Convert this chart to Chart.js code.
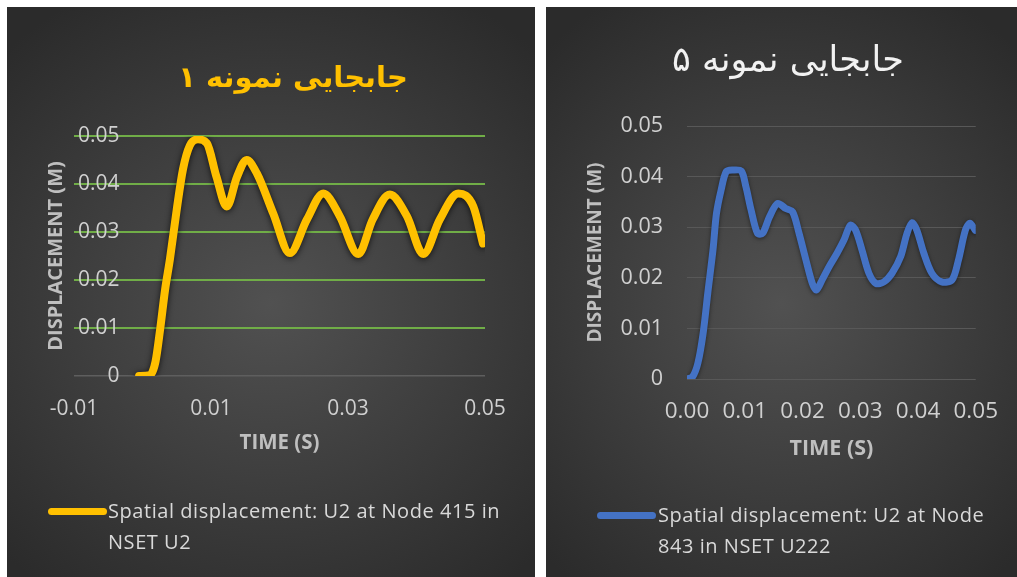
<!DOCTYPE html>
<html>
<head>
<meta charset="utf-8">
<script src="https://cdn.jsdelivr.net/npm/chart.js@4.4.0/dist/chart.umd.min.js"></script>
<style>
  html, body { margin: 0; padding: 0; background: #ffffff; width: 1017px; height: 577px; overflow: hidden; }
  .panel { position: absolute; top: 7px; height: 570px; overflow: hidden;
    background: radial-gradient(ellipse 72% 62% at 50% 52%, #515151 0%, #404040 45%, #2b2b2b 100%); }
  #panelA { left: 7px; width: 528px; }
  #panelB { left: 546px; width: 471px; }
  canvas { position: absolute; left: 0; top: 0; }
  .heading { position: absolute; white-space: nowrap; font-family: 'DejaVu Sans', sans-serif;
    transform: translate(-50%, -50%); }
  .legendText { position: absolute; font-family: 'Open Sans', Lato, sans-serif; font-size: 20px;
    letter-spacing: 0.55px; color: #d9d9d9; line-height: 31px; white-space: nowrap; }
  .swatch { position: absolute; height: 7px; border-radius: 4px; }
</style>
</head>
<body>
<div class="panel" id="panelA">
  <canvas id="chartA" width="528" height="570"></canvas>
  <div class="heading" id="headA" style="left:286px; top:70px; font-size:29px; font-weight:bold; color:#ffc000;"></div>
  <div class="swatch" style="left:41px; top:501px; width:59px; background:#ffc000;"></div>
  <div class="legendText" id="legA" style="left:101px; top:488px;"></div>
</div>
<div class="panel" id="panelB">
  <canvas id="chartB" width="471" height="570"></canvas>
  <div class="heading" id="headB" style="left:242px; top:52px; font-size:35px; color:#f2f2f2;"></div>
  <div class="swatch" style="left:51px; top:505px; width:59px; background:#4472c4;"></div>
  <div class="legendText" id="legB" style="left:112px; top:492px;"></div>
</div>
<script>
// Sample 1: U2 displacement at node 415 (NSET U2)
const timeA = [-0.0005, 0.0011, 0.0019, 0.0026, 0.0033, 0.0040, 0.0050, 0.0059, 0.0069, 0.0081,
  0.0094, 0.0108, 0.0123, 0.0138, 0.0152, 0.0167, 0.0191, 0.0215, 0.0240, 0.0264,
  0.0288, 0.0315, 0.0336, 0.0361, 0.0386, 0.0410, 0.0434, 0.0461, 0.0483, 0.0497];
const dispA = [0, 0.0002, 0.0030, 0.0100, 0.0180, 0.0243, 0.0347, 0.0430, 0.0480, 0.0493,
  0.0485, 0.0415, 0.0353, 0.0415, 0.0450, 0.0422, 0.0338, 0.0256, 0.0326, 0.0380,
  0.0333, 0.0254, 0.0326, 0.0378, 0.0333, 0.0254, 0.0326, 0.0380, 0.0353, 0.0276];

// Sample 5: U2 displacement at node 843 (NSET U222)
const timeB = [0, 0.0010, 0.0019, 0.0028, 0.0036, 0.0045, 0.0051, 0.0059, 0.0068, 0.0079,
  0.0094, 0.0102, 0.0111, 0.0122, 0.0131, 0.0143, 0.0157, 0.0171, 0.0183, 0.0194,
  0.0206, 0.0217, 0.0224, 0.0234, 0.0246, 0.0260, 0.0272, 0.0283, 0.0292, 0.0303,
  0.0315, 0.0327, 0.0341, 0.0355, 0.0370, 0.0381, 0.0390, 0.0398, 0.0410, 0.0424,
  0.0441, 0.0459, 0.0470, 0.0482, 0.0490, 0.0499];
const dispB = [0, 0.0005, 0.0032, 0.0091, 0.0170, 0.0255, 0.0327, 0.0373, 0.0410, 0.0413,
  0.0411, 0.0380, 0.0334, 0.0288, 0.0288, 0.0321, 0.0347, 0.0337, 0.0330, 0.0288,
  0.0235, 0.0189, 0.0176, 0.0196, 0.0222, 0.0249, 0.0275, 0.0304, 0.0294, 0.0255,
  0.0209, 0.0189, 0.0192, 0.0209, 0.0242, 0.0288, 0.0309, 0.0294, 0.0249, 0.0209,
  0.0192, 0.0196, 0.0235, 0.0294, 0.0308, 0.0294];

// Axis ticks and their printed labels
const xTicksA = [-0.01, 0.01, 0.03, 0.05];
const xLabelsA = ['-0.01', '0.01', '0.03', '0.05'];
const xTicksB = [0, 0.01, 0.02, 0.03, 0.04, 0.05];
const xLabelsB = ['0.00', '0.01', '0.02', '0.03', '0.04', '0.05'];
const yTicks = [0, 0.01, 0.02, 0.03, 0.04, 0.05];
const yLabels = ['0', '0.01', '0.02', '0.03', '0.04', '0.05'];

// Text
const titleA = 'جابجایی نمونه ۱';
const titleB = 'جابجایی نمونه ۵';
const seriesA = ['Spatial displacement: U2 at Node 415 in', 'NSET U2'];
const seriesB = ['Spatial displacement: U2 at Node', '843 in NSET U222'];
const xTitle = 'TIME (S)';
const yTitle = 'DISPLACEMENT (M)';

document.getElementById('headA').textContent = titleA;
document.getElementById('headB').textContent = titleB;
document.getElementById('legA').innerHTML = seriesA.join('<br>');
document.getElementById('legB').innerHTML = seriesB.join('<br>');

const pts = (ts, vs) => ts.map((t, i) => ({ x: t, y: vs[i] }));
const labelFont = '"Open Sans", Lato, sans-serif';

// soft dark shadow under the series line
const lineShadow = {
  id: 'lineShadow',
  beforeDatasetsDraw(chart, args, opts) {
    const c = chart.ctx;
    c.save();
    c.shadowColor = opts.color;
    c.shadowBlur = opts.blur;
    c.shadowOffsetX = 0;
    c.shadowOffsetY = 1;
  },
  afterDatasetsDraw(chart) { chart.ctx.restore(); }
};

function setTicks(list) {
  return scale => { scale.ticks = list.map(v => ({ value: v })); };
}

new Chart(document.getElementById('chartA'), {
  type: 'line',
  data: {
    datasets: [{
      label: seriesA.join(' '),
      data: pts(timeA, dispA),
      borderColor: '#ffc000',
      borderWidth: 8,
      pointRadius: 0,
      cubicInterpolationMode: 'monotone',
      borderCapStyle: 'round',
      borderJoinStyle: 'round',
      fill: false
    }]
  },
  plugins: [lineShadow],
  options: {
    responsive: false,
    animation: false,
    devicePixelRatio: 1,
    layout: { padding: { left: 37, right: 50, top: 129, bottom: 121 } },
    plugins: {
      legend: { display: false },
      tooltip: { enabled: false },
      title: { display: false },
      lineShadow: { color: 'rgba(0,0,0,0.75)', blur: 6 }
    },
    scales: {
      x: {
        type: 'linear', min: -0.01, max: 0.05,
        afterBuildTicks: setTicks(xTicksA),
        afterFit: s => { s.height = 80; },
        grid: { display: false, drawTicks: false },
        border: { display: false },
        ticks: {
          callback: (v, i) => xLabelsA[i],
          color: '#cfcfcf', font: { family: labelFont, size: 21 },
          padding: 20, maxRotation: 0, autoSkip: false
        },
        title: { display: true, text: xTitle, color: '#bfbfbf',
          font: { family: labelFont, size: 20.5, weight: 'bold' }, padding: { top: 0, bottom: 1 } }
      },
      y: {
        type: 'linear', min: 0, max: 0.05,
        afterBuildTicks: setTicks(yTicks),
        afterFit: s => { s.width = 30; },
        grid: {
          drawTicks: false,
          color: c => c.tick && c.tick.value === 0 ? '#5e5e5e' : '#70ad47',
          lineWidth: c => c.tick && c.tick.value === 0 ? 1.5 : 2
        },
        border: { display: false },
        ticks: {
          mirror: true, crossAlign: 'far', padding: 4,
          callback: (v, i) => yLabels[i],
          color: '#d0d0d0', font: { family: labelFont, size: 21 }, autoSkip: false
        },
        title: { display: true, text: yTitle, color: '#bfbfbf',
          font: { family: labelFont, size: 20, weight: 'bold' }, padding: { top: 0, bottom: 0 } }
      }
    }
  }
});

new Chart(document.getElementById('chartB'), {
  type: 'line',
  data: {
    datasets: [{
      label: seriesB.join(' '),
      data: pts(timeB, dispB),
      borderColor: '#4472c4',
      borderWidth: 7,
      pointRadius: 0,
      tension: 0.3,
      borderCapStyle: 'round',
      borderJoinStyle: 'round',
      fill: false
    }]
  },
  plugins: [lineShadow],
  options: {
    responsive: false,
    animation: false,
    devicePixelRatio: 1,
    layout: { padding: { left: 38, right: 40, top: 119, bottom: 115 } },
    plugins: {
      legend: { display: false },
      tooltip: { enabled: false },
      title: { display: false },
      lineShadow: { color: 'rgba(0,0,0,0.5)', blur: 4 }
    },
    scales: {
      x: {
        type: 'linear', min: 0, max: 0.05,
        afterBuildTicks: setTicks(xTicksB),
        afterFit: s => { s.height = 83; },
        grid: { display: false, drawTicks: false },
        border: { display: false },
        ticks: {
          callback: (v, i) => xLabelsB[i],
          color: '#d0d0d0', font: { family: labelFont, size: 22.5 },
          padding: 19, maxRotation: 0, autoSkip: false
        },
        title: { display: true, text: xTitle, color: '#bfbfbf',
          font: { family: labelFont, size: 21.5, weight: 'bold' }, padding: { top: 0, bottom: 0 } }
      },
      y: {
        type: 'linear', min: 0, max: 0.05,
        afterBuildTicks: setTicks(yTicks),
        afterFit: s => { s.width = 103; },
        grid: { drawTicks: false, color: '#585858', lineWidth: 1 },
        border: { display: false },
        ticks: {
          padding: 24,
          callback: (v, i) => yLabels[i],
          color: '#d0d0d0', font: { family: labelFont, size: 21.5 }, autoSkip: false
        },
        title: { display: true, text: yTitle, color: '#bfbfbf',
          font: { family: labelFont, size: 19, weight: 'bold' }, padding: { top: 0, bottom: 0 } }
      }
    }
  }
});
</script>
</body>
</html>
